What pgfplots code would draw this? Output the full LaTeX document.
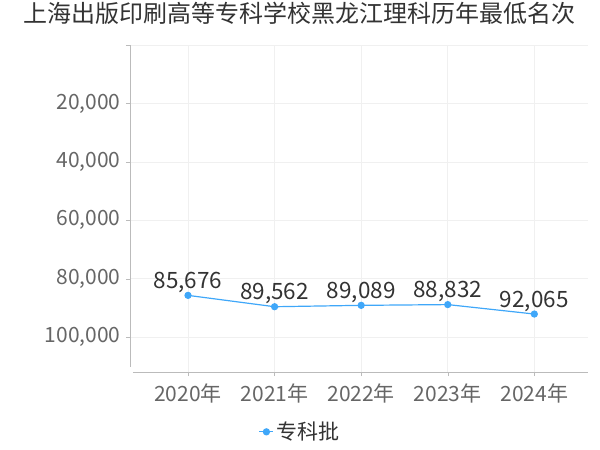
\documentclass[border=0pt]{standalone}
\usepackage{pgfplots}
\pgfplotsset{compat=1.18}
\usepackage{fontspec}
\setmainfont{Noto Sans CJK SC}
\definecolor{lineblue}{HTML}{3FA7F9}
\definecolor{tickgray}{HTML}{666666}
\definecolor{labelgray}{HTML}{333333}
\definecolor{axisgray}{HTML}{BBBBBB}
\definecolor{gridgray}{HTML}{F0F0F0}
\begin{document}
\begin{tikzpicture}
\useasboundingbox (0,0) rectangle (600pt,450pt);
\begin{axis}[
  at={(130pt,78pt)}, anchor=south west,
  scale only axis,
  width=458pt, height=327pt,
  xmin=-0.67, xmax=4.62,
  ymin=0, ymax=111900,
  y dir=reverse,
  xtick={0,1,2,3,4},
  xticklabels={2020年,2021年,2022年,2023年,2024年},
  ytick={0,20000,40000,60000,80000,100000},
  yticklabels={,{20,000},{40,000},{60,000},{80,000},{100,000}},
  scaled y ticks=false,
  axis x line*=bottom,
  axis y line*=left,
  x axis line style={draw=axisgray, -, shorten <=3pt},
  y axis line style={draw=axisgray, -, shorten >=5pt},
  tick style={draw=axisgray},
  major tick length=4pt,
  xtick pos=bottom, ytick pos=left,
  tick align=outside,
  grid=major,
  major grid style={draw=gridgray, line width=0.6pt},
  ticklabel style={font=\fontsize{21}{24}\selectfont, text=tickgray},
  xticklabel style={yshift=-4pt},
  yticklabel style={xshift=-2pt},
  /pgf/number format/assume math mode=true,
  /pgf/number format/1000 sep={,},
  nodes near coords,
  nodes near coords style={font=\fontsize{22.5}{26}\selectfont, text=labelgray, anchor=south, inner sep=1pt, yshift=1pt,
    /pgf/number format/1000 sep={,}, /pgf/number format/assume math mode=true},
  title={上海出版印刷高等专科学校黑龙江理科历年最低名次},
  title style={font=\fontsize{24}{28}\selectfont, text=labelgray, at={(0.371,1)}, anchor=center, yshift=26pt},
  legend style={at={(0.371,-0.183)}, anchor=center, draw=none, font=\fontsize{21}{24}\selectfont, text=labelgray,
    legend cell align=left},
  legend image code/.code={
    \draw[#1, line width=1.2pt] (0pt,0pt) -- (14pt,0pt);
    \fill[lineblue] (7pt,0pt) circle (3pt);
  },
]
\addplot[color=lineblue, line width=1.2pt, mark=*, mark size=3pt, mark options={fill=lineblue, draw=lineblue}]
  coordinates {(0,85676) (1,89562) (2,89089) (3,88832) (4,92065)};
\addlegendentry{专科批}
\end{axis}
\end{tikzpicture}
\end{document}
